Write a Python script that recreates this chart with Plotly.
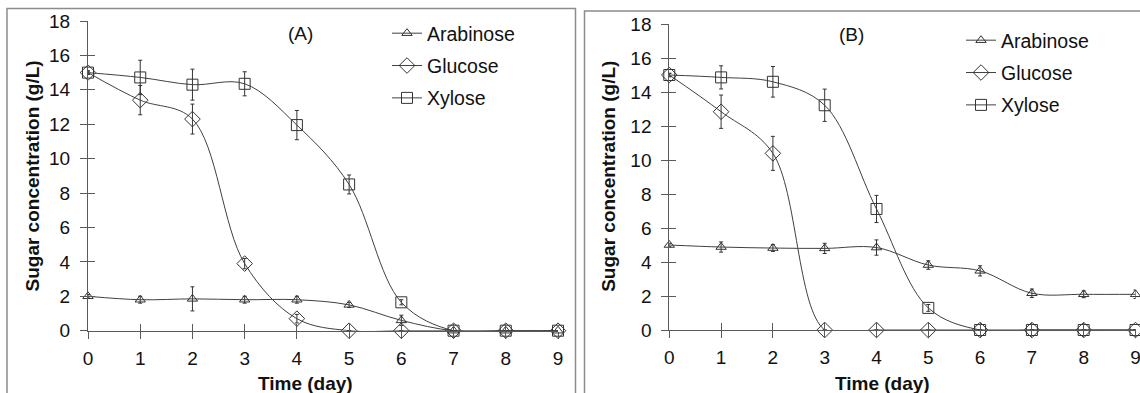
import plotly.graph_objects as go

# ---------------- data ----------------
days = [0, 1, 2, 3, 4, 5, 6, 7, 8, 9]
series_names = ["Arabinose", "Glucose", "Xylose"]
x_ticks = [0, 1, 2, 3, 4, 5, 6, 7, 8, 9]
y_ticks = [0, 2, 4, 6, 8, 10, 12, 14, 16, 18]

# Panel (A)
a_arabinose = [2.0, 1.8, 1.85, 1.8, 1.8, 1.5, 0.6, 0, 0, 0]
a_arabinose_err = [0.1, 0.2, 0.7, 0.2, 0.2, 0.15, 0.3, 0, 0, 0]
a_glucose = [15.0, 13.4, 12.3, 3.9, 0.7, 0, 0, 0, 0, 0]
a_glucose_err = [0.1, 0.85, 0.87, 0.3, 0.25, 0, 0, 0, 0, 0]
a_xylose = [15.0, 14.72, 14.3, 14.35, 11.95, 8.5, 1.65, 0, 0, 0]
a_xylose_err = [0.1, 1.0, 0.9, 0.7, 0.85, 0.55, 0.15, 0, 0, 0]

# Panel (B)
b_arabinose = [5.0, 4.88, 4.82, 4.8, 4.85, 3.82, 3.48, 2.16, 2.1, 2.1]
b_arabinose_err = [0.1, 0.3, 0.2, 0.3, 0.45, 0.25, 0.3, 0.25, 0.2, 0.25]
b_glucose = [15.0, 12.84, 10.39, 0, 0, 0, 0, 0, 0, 0]
b_glucose_err = [0.1, 0.98, 1.0, 0, 0, 0, 0, 0, 0, 0]
b_xylose = [15.0, 14.86, 14.6, 13.22, 7.12, 1.3, 0, 0, 0, 0]
b_xylose_err = [0.1, 0.68, 0.9, 0.95, 0.8, 0.2, 0, 0, 0, 0]

# ---------------- styling ----------------
W, H = 1140, 393
FONT = "Arial, 'Liberation Sans', sans-serif"
LINE_C = "#404040"
AXIS_C = "#595959"
TEXT_C = "#111111"
symbols = {"Arabinose": "triangle-up-open", "Glucose": "diamond-open", "Xylose": "square-open"}
sizes = {"Arabinose": 9, "Glucose": 12, "Xylose": 11}


def px_x(p):
    return p / W


def px_y(p):
    return 1 - p / H


fig = go.Figure()

panels = [
    ("x", "y", "legend", [a_arabinose, a_glucose, a_xylose],
     [a_arabinose_err, a_glucose_err, a_xylose_err]),
    ("x2", "y2", "legend2", [b_arabinose, b_glucose, b_xylose],
     [b_arabinose_err, b_glucose_err, b_xylose_err]),
]

for xa, ya, lg, vals, errs in panels:
    for i, name in enumerate(series_names):
        fig.add_trace(go.Scatter(
            x=days, y=vals[i], name=name, mode="lines+markers",
            xaxis=xa, yaxis=ya, legend=lg, legendgroup=lg + name,
            line=dict(color=LINE_C, width=1, shape="spline", smoothing=1),
            marker=dict(symbol=symbols[name], size=sizes[name], color="#333333",
                        line=dict(color="#333333", width=1)),
            error_y=dict(type="data", array=errs[i], visible=True,
                         color="#333333", thickness=1, width=2),
            cliponaxis=False,
        ))

# invisible traces to build the inner-tick overlay axes
fig.add_trace(go.Scatter(x=[], y=[], xaxis="x3", yaxis="y3", showlegend=False, hoverinfo="skip"))
fig.add_trace(go.Scatter(x=[], y=[], xaxis="x4", yaxis="y4", showlegend=False, hoverinfo="skip"))

dom_ax = [px_x(88), px_x(558)]
dom_ay = [px_y(330.7), px_y(21)]
dom_bx = [px_x(669.3), px_x(1135.5)]
dom_by = [px_y(330), px_y(24)]

common_x = dict(range=[0, 9], tickvals=x_ticks, showgrid=False, zeroline=False,
                showline=True, linecolor=AXIS_C, linewidth=1, automargin=False,
                ticks="outside", ticklen=7, tickcolor=AXIS_C, tickwidth=1,
                ticklabeloverflow="allow",
                tickfont=dict(family=FONT, size=19, color=TEXT_C), fixedrange=True)
common_y = dict(range=[0, 18], tickvals=y_ticks, showgrid=False, zeroline=False,
                showline=True, linecolor=AXIS_C, linewidth=1, automargin=False,
                ticks="outside", ticklen=7, tickcolor=AXIS_C, tickwidth=1,
                tickfont=dict(family=FONT, size=19, color=TEXT_C), fixedrange=True)
inner_x = dict(range=[0, 9], tickvals=x_ticks, showgrid=False, zeroline=False,
               showline=False, ticks="inside", ticklen=7, tickcolor=AXIS_C,
               tickwidth=1, showticklabels=False, fixedrange=True, automargin=False)
inner_y = dict(range=[0, 18], tickvals=y_ticks, showgrid=False, zeroline=False,
               showline=False, ticks="inside", ticklen=7, tickcolor=AXIS_C,
               tickwidth=1, showticklabels=False, fixedrange=True, automargin=False)

fig.update_layout(
    width=W, height=H, margin=dict(l=0, r=0, t=0, b=0, autoexpand=False),
    paper_bgcolor="white", plot_bgcolor="rgba(0,0,0,0)",
    font=dict(family=FONT, color=TEXT_C),
    xaxis=dict(domain=dom_ax, anchor="y", ticklabelstandoff=3, **common_x),
    yaxis=dict(domain=dom_ay, anchor="x", ticklabelstandoff=6, **common_y),
    xaxis2=dict(domain=dom_bx, anchor="y2", ticklabelstandoff=3, **common_x),
    yaxis2=dict(domain=dom_by, anchor="x2", ticklabelstandoff=6, **common_y),
    xaxis3=dict(overlaying="x", anchor="y3", **inner_x),
    yaxis3=dict(overlaying="y", anchor="x3", **inner_y),
    xaxis4=dict(overlaying="x2", anchor="y4", **inner_x),
    yaxis4=dict(overlaying="y2", anchor="x4", **inner_y),
    legend=dict(x=px_x(387), y=px_y(14), xanchor="left", yanchor="top",
                bgcolor="rgba(0,0,0,0)", borderwidth=0, tracegroupgap=4,
                traceorder="grouped", itemwidth=30,
                font=dict(family=FONT, size=19.5, color=TEXT_C)),
    legend2=dict(x=px_x(961), y=px_y(21), xanchor="left", yanchor="top",
                 bgcolor="rgba(0,0,0,0)", borderwidth=0, tracegroupgap=4,
                 traceorder="grouped", itemwidth=30,
                 font=dict(family=FONT, size=19.5, color=TEXT_C)),
    showlegend=True,
)

# panel frames
fig.add_shape(type="rect", xref="paper", yref="paper",
              x0=px_x(7), x1=px_x(575.5), y0=-0.2, y1=px_y(8.5),
              line=dict(color="#8c8c8c", width=1.5), layer="below")
fig.add_shape(type="rect", xref="paper", yref="paper",
              x0=px_x(584.5), x1=1.2, y0=-0.2, y1=px_y(11),
              line=dict(color="#8c8c8c", width=1.5), layer="below")

# titles and panel labels
annots = [
    ("(A)", 300, 33.5, 0, False),
    ("(B)", 851.7, 35, 0, False),
    ("Time (day)", 305, 383.3, 0, True),
    ("Time (day)", 882.6, 383.3, 0, True),
    ("Sugar concentration (g/L)", 32, 176.5, -90, True),
    ("Sugar concentration (g/L)", 608.3, 176.5, -90, True),
]
for txt, ax_, ay_, ang, bold in annots:
    fig.add_annotation(
        text=f"<b>{txt}</b>" if bold else txt, xref="paper", yref="paper",
        x=px_x(ax_), y=px_y(ay_), xanchor="center", yanchor="middle",
        showarrow=False, textangle=ang,
        font=dict(family=FONT, size=19, color=TEXT_C),
    )

fig.write_html("out.html")
